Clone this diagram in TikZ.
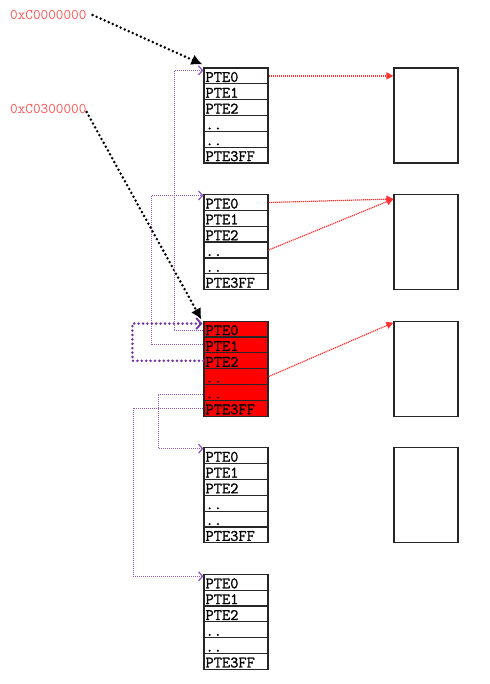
\documentclass[tikz,border=0pt]{standalone}
\usepackage{fontspec}
\newfontfamily\monob[FakeBold=1.2]{Latin Modern Mono}
\usetikzlibrary{arrows.meta}
\definecolor{lblred}{RGB}{255,80,80}
\definecolor{arrred}{RGB}{255,50,50}
\definecolor{pthinc}{RGB}{140,90,200}
\definecolor{pthickc}{RGB}{112,48,160}
\begin{document}
\begin{tikzpicture}[x=1pt,y=-1pt,
  row/.style={draw=black!85, line width=1.2pt, minimum width=64pt, minimum height=15.83pt,
    inner sep=0pt, text width=61pt, align=left, text height=12.5pt, text depth=0.5pt,
    font=\monob\fontsize{16}{16}\selectfont},
  tbl1/.style={}, tbl2/.style={}, tbl3/.style={fill=red}, tbl4/.style={}, tbl5/.style={},
  pagebox/.style={draw=black!85, line width=1.2pt, minimum width=64pt, minimum height=95pt, inner sep=0pt},
  lbl/.style={text=lblred, inner sep=1pt, font=\ttfamily\fontsize{14.8}{14.8}\selectfont},
  blk/.style={draw=black, line width=2.8pt, line cap=round, dash pattern=on 0pt off 4.4pt,
    -{Latex[length=11pt,width=11pt]}},
  rarr/.style={draw=arrred, line width=1.2pt, dash pattern=on 1.2pt off 0.8pt,
    -{Triangle[length=7pt,width=7pt]}},
  pth/.style={draw=pthinc, line width=0.9pt, dash pattern=on 1pt off 1pt,
    -{Straight Barb[length=4pt,width=9pt,line width=1.3pt]}},
  pthk/.style={draw=pthickc, line width=2.8pt, line cap=round, dash pattern=on 0pt off 4.4pt,
    -{Straight Barb[length=5pt,width=11pt,line width=1.8pt]}}
]
\useasboundingbox (0,0) rectangle (489,684);
% page tables
\foreach \tb in {1,...,5}{
  \foreach \ri/\tx in {1/PTE0,2/PTE1,3/PTE2,4/{..},5/{..},6/PTE3FF}{
    \pgfmathsetmacro\yy{68+(\tb-1)*126.6+(\ri-0.5)*15.83}
    \node[row, tbl\tb] (t\tb r\ri) at (236,\yy) {\tx};
  }
}
% pages
\foreach \tb in {1,...,4}{
  \pgfmathsetmacro\yy{68+(\tb-1)*126.6+47.5}
  \node[pagebox] (b\tb) at (426,\yy) {};
}
% labels
\node[lbl, anchor=west] (va1) at (9,15) {0xC0000000};
\node[lbl, anchor=west] (va2) at (9,109) {0xC0300000};
% black arrows
\draw[blk] ([xshift=5pt]va1.east) -- ([xshift=-1pt,yshift=3pt]t1r1.north west);
\draw[blk] ([xshift=-1pt,yshift=-3pt]va2.east) -- ([xshift=-2pt,yshift=1pt]t3r1.north west);
% red arrows
\draw[rarr] (t1r1.east) -- (t1r1.east -| b1.west);
\draw[rarr] (t2r1.east) -- ([yshift=-5pt]b2.north west);
\draw[rarr] (t2r4.east) -- ([yshift=-5pt]b2.north west);
\draw[rarr] (t3r4.east) -- ([yshift=-2pt]b3.north west);
% purple connectors
\draw[pth] ([yshift=-1.5pt]t3r1.west) -| ([xshift=-29pt,yshift=-3pt]t1r1.north west) -- ([yshift=-3pt]t1r1.north west);
\draw[pth] (t3r2.west) -| ([xshift=-52pt,yshift=-1.5pt]t2r1.north west) -- ([yshift=-1.5pt]t2r1.north west);
\draw[pth] ([yshift=-2pt]t3r5.west) -| ([xshift=-45pt,yshift=-1.5pt]t4r1.north west) -- ([yshift=-1.5pt]t4r1.north west);
\draw[pth] (t3r6.west) -| ([xshift=-70pt,yshift=-2.5pt]t5r1.north west) -- ([yshift=-2.5pt]t5r1.north west);
\draw[pthk] (t3r3.west) -| ([xshift=-71pt,yshift=-3pt]t3r1.north west) -- ([xshift=-1pt,yshift=-3pt]t3r1.north west);
\end{tikzpicture}
\end{document}
